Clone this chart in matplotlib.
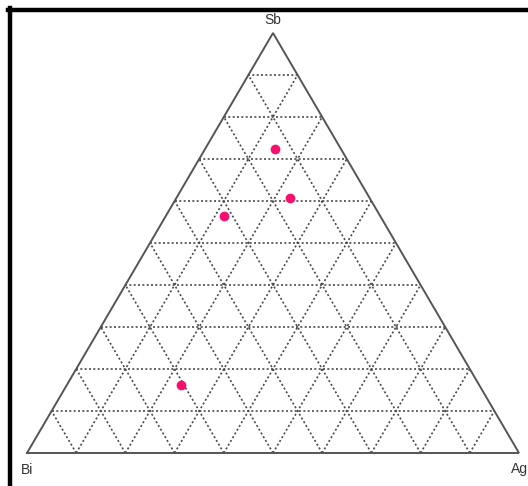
import matplotlib
matplotlib.use('Agg')
import matplotlib.pyplot as plt
from matplotlib.lines import Line2D
import numpy as np

# ternary compositions (fractions)
bi = [0.134, 0.162, 0.318, 0.606]
ag = [0.142, 0.231, 0.118, 0.232]
sb = [0.724, 0.607, 0.564, 0.162]

vertex_labels = ['Bi', 'Ag', 'Sb']
grid_steps = np.arange(1, 10) / 10.0

plt.rcParams['font.family'] = ['Liberation Sans', 'DejaVu Sans']

fig = plt.figure(figsize=(5.28, 4.86), dpi=100)
W, H = 528.0, 486.0

# axes box maps the triangle: x = Ag + Sb/2, y = Sb
ax = fig.add_axes([27 / W, 33 / H, 492 / W, 420 / H])
ax.set_xlim(0, 1)
ax.set_ylim(0, 1)
ax.axis('off')


def tern(a, s):
    a = np.asarray(a, dtype=float)
    s = np.asarray(s, dtype=float)
    return a + s / 2.0, s


grid_kw = dict(color='#4a4a4a', linestyle=(0, (1.2, 1.4)), linewidth=1.2,
               clip_on=False)
for g in grid_steps:
    # constant Sb
    x, y = tern([0, 1 - g], [g, g])
    ax.plot(x, y, **grid_kw)
    # constant Ag
    x, y = tern([g, g], [0, 1 - g])
    ax.plot(x, y, **grid_kw)
    # constant Bi
    x, y = tern([1 - g, 0], [0, 1 - g])
    ax.plot(x, y, **grid_kw)

# outline
x, y = tern([0, 1, 0, 0], [0, 0, 1, 0])
ax.plot(x, y, color='#555555', linewidth=1.4, clip_on=False,
        solid_joinstyle='miter')

# data points
x, y = tern(ag, sb)
ax.plot(x, y, 'o', color='#f5106e', markersize=7, markeredgewidth=0,
        clip_on=False)

# vertex labels
txt_kw = dict(fontsize=10, color='#333333')
fig.text(27 / W, 1 - 470 / H, vertex_labels[0], ha='center', va='center', **txt_kw)
fig.text(519 / W, 1 - 469 / H, vertex_labels[1], ha='center', va='center', **txt_kw)
fig.text(273 / W, 1 - 20 / H, vertex_labels[2], ha='center', va='center', **txt_kw)

# black frame (top and left edges visible)
fig.add_artist(Line2D([8 / W, 1], [1 - 10 / H, 1 - 10 / H], color='black',
                      linewidth=3.2, transform=fig.transFigure))
fig.add_artist(Line2D([10 / W, 10 / W], [1 - 8 / H, 0], color='black',
                      linewidth=3.2, transform=fig.transFigure))

fig.savefig('out.png', dpi=100)
